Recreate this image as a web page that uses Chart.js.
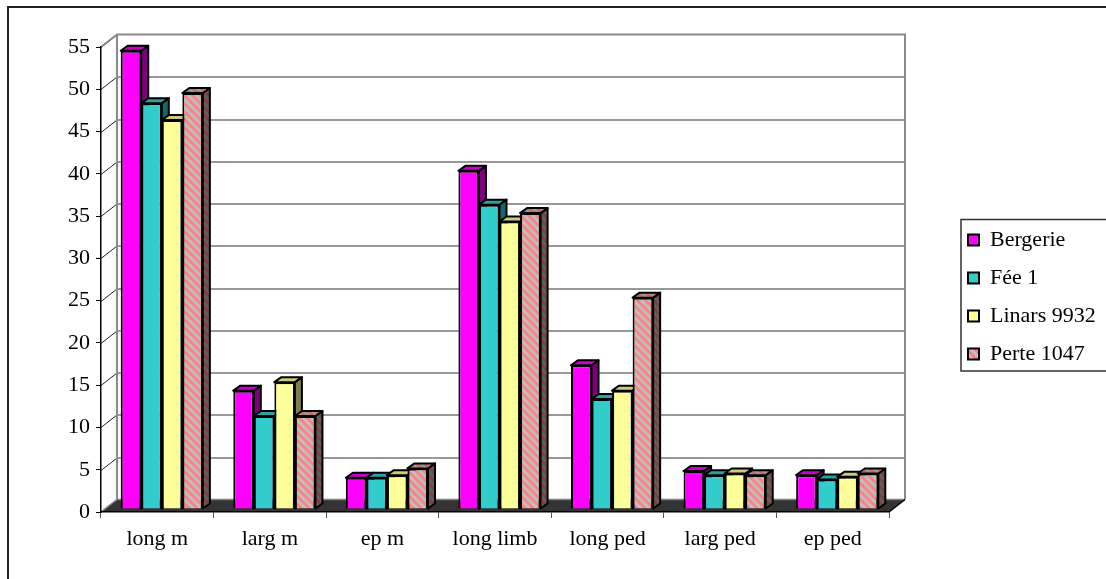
<!DOCTYPE html>
<html><head><meta charset="utf-8">
<style>html,body{margin:0;padding:0;background:#fff;overflow:hidden}canvas{display:block}</style>
<script src="https://cdn.jsdelivr.net/npm/chart.js@4"></script>
</head><body><canvas id="c" width="1106" height="579"></canvas>
<script>
const categories=['long m','larg m','ep m','long limb','long ped','larg ped','ep ped'];
const bergerie=[54.2,14,3.7,40,17,4.5,4];
const fee1=[48,11,3.7,36,13,4,3.5];
const linars=[46,15,4,34,14,4.2,3.8];
const perte=[49.2,11,4.8,35,25,4,4.2];
const seriesNames=['Bergerie','Fée 1','Linars 9932','Perte 1047'];
const yMax=55, yStep=5;

const FONT='"Liberation Serif","Times New Roman",serif';
function stripes(){
  const s=document.createElement('canvas');s.width=8;s.height=8;
  const g=s.getContext('2d');
  for(let py=0;py<8;py++)for(let px=0;px<8;px++){
    g.fillStyle=((px-py+16)%8)<4?'#FF8080':'#C0C0C0';
    g.fillRect(px,py,1,1);
  }
  return g.createPattern(s,'repeat');
}
const fills=['#FF00FF','#33CCCC','#FFFF99',stripes()];
const values=[bergerie,fee1,linars,perte];

const WALL_DX=16, WALL_DY=12.5;    // depth of the box
const BAR_SHIFT_X=4.5, BAR_SHIFT_Y=-3; // bars stand inside the floor
const BAR_DX=7, BAR_DY=5;          // depth of each bar

const box3d={
  id:'box3d',
  afterLayout(chart){
    const l=chart.legend;
    l.left=968-l.options.labels.padding;
    l.right=chart.width;
    l.top=213;
    l.bottom=chart.height;
  },
  beforeDraw(chart){
    const c=chart.ctx,a=chart.chartArea,y=chart.scales.y;
    c.save();
    c.fillStyle='#fff';c.fillRect(0,0,chart.width,chart.height);
    c.strokeStyle='#222';c.lineWidth=2;
    c.beginPath();c.moveTo(8,chart.height);c.lineTo(8,7);c.lineTo(chart.width,7);c.stroke();
    c.lineWidth=1.5;c.strokeStyle='#333';
    c.beginPath();c.moveTo(chart.width,219.5);c.lineTo(961,219.5);c.lineTo(961,371);c.lineTo(chart.width,371);c.stroke();
    const L=a.left,R=a.right,B=a.bottom,T=a.top;
    const bx=L+WALL_DX, brx=R+WALL_DX, dy=WALL_DY;
    y.ticks.forEach(t=>{
      const p=Math.round(y.getPixelForValue(t.value))+0.5;
      c.strokeStyle='#222';c.lineWidth=1;
      c.beginPath();c.moveTo(L,p);c.lineTo(bx,p-dy);c.stroke();
      if(t.value>0&&t.value<yMax){
        c.strokeStyle='#333';c.lineWidth=1;
        c.beginPath();c.moveTo(bx,p-dy);c.lineTo(brx,p-dy);c.stroke();
      }
    });
    c.strokeStyle='#8a8a8a';c.lineWidth=2;
    c.beginPath();c.moveTo(L,T);c.lineTo(bx,T-dy);c.lineTo(brx,T-dy);c.lineTo(brx,B-dy);c.stroke();
    c.beginPath();c.moveTo(bx,T-dy);c.lineTo(bx,B-dy);c.stroke();
    c.fillStyle='#333';
    c.beginPath();c.moveTo(L,B);c.lineTo(bx,B-dy);c.lineTo(brx,B-dy);c.lineTo(R,B);c.closePath();c.fill();
    c.strokeStyle='#808080';c.lineWidth=1.5;
    c.beginPath();c.moveTo(L,B);c.lineTo(bx,B-dy);c.lineTo(brx,B-dy);c.stroke();
    c.strokeStyle='#000';c.lineWidth=1.5;
    c.beginPath();c.moveTo(R,B);c.lineTo(brx,B-dy);c.stroke();
    c.restore();
  },
  beforeDatasetsDraw(chart){
    const c=chart.ctx;
    c.save();
    c.translate(BAR_SHIFT_X,BAR_SHIFT_Y);
    chart.data.datasets.forEach((ds,i)=>{
      const fill=fills[i];
      chart.getDatasetMeta(i).data.forEach(b=>{
        const l=b.x-b.width/2,r=b.x+b.width/2,t=b.y,bm=b.base;
        const face=(pts,shade)=>{
          c.beginPath();pts.forEach((q,k)=>k?c.lineTo(q[0],q[1]):c.moveTo(q[0],q[1]));c.closePath();
          c.fillStyle=fill;c.fill();
          c.fillStyle='rgba(0,0,0,'+shade+')';c.fill();
          c.strokeStyle='#000';c.lineWidth=2;c.lineJoin='round';c.stroke();
        };
        face([[r,t],[r+BAR_DX,t-BAR_DY],[r+BAR_DX,bm-BAR_DY],[r,bm]],0.5);
        face([[l,t],[l+BAR_DX,t-BAR_DY],[r+BAR_DX,t-BAR_DY],[r,t]],0.2);
      });
    });
    c.restore();
  },
  beforeDatasetDraw(chart){
    chart.ctx.save();
    chart.ctx.translate(BAR_SHIFT_X,BAR_SHIFT_Y);
  },
  afterDatasetDraw(chart){chart.ctx.restore();}
};

new Chart(document.getElementById('c'),{
  type:'bar',
  data:{labels:categories,datasets:seriesNames.map((n,i)=>({
    label:n,data:values[i],backgroundColor:fills[i],borderColor:'#000',borderWidth:2,
    clip:false,categoryPercentage:0.73,barPercentage:1
  }))},
  plugins:[box3d],
  options:{
    responsive:false,animation:false,
    layout:{padding:{left:0,top:47,right:72,bottom:0}},
    plugins:{
      title:{display:false},tooltip:{enabled:false},
      legend:{position:'right',align:'start',maxWidth:145,
        labels:{color:'#000',boxWidth:11,boxHeight:11,padding:16,font:{family:FONT,size:22}}}
    },
    scales:{
      x:{
        afterFit(s){s.height=67;},
        border:{color:'#000',width:1.5},
        grid:{drawOnChartArea:false,drawTicks:true,tickLength:6,color:'#555',offset:true},
        ticks:{color:'#000',padding:8,maxRotation:0,autoSkip:false,font:{family:FONT,size:22}}
      },
      y:{
        min:0,max:yMax,
        afterFit(s){s.width=101;},
        border:{color:'#000',width:1.5},
        grid:{drawOnChartArea:false,drawTicks:true,tickLength:5,color:'#000'},
        ticks:{stepSize:yStep,color:'#000',padding:6,font:{family:FONT,size:22}}
      }
    }
  }
});
</script></body></html>
